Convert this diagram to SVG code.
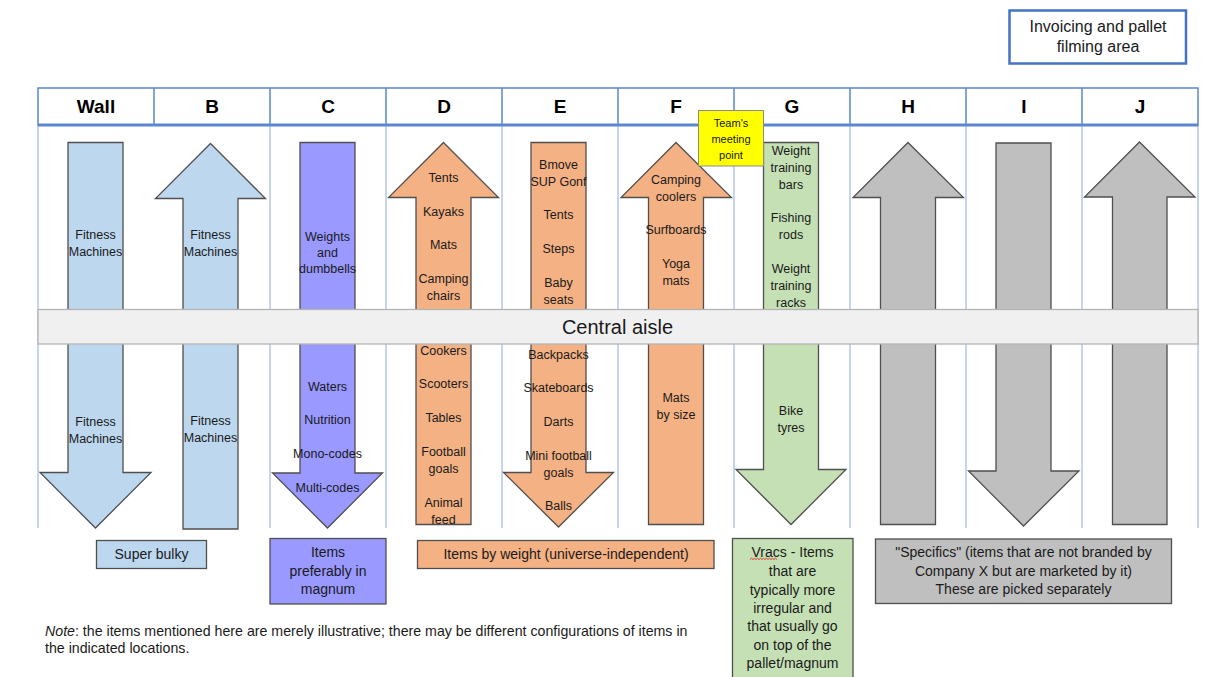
<svg xmlns="http://www.w3.org/2000/svg" width="1209" height="677" viewBox="0 0 1209 677">
  <style>
    text { font-family: "Liberation Sans", Arial, sans-serif; fill: #1a1a1a; }
    .hdr { font-size: 19px; font-weight: bold; text-anchor: middle; fill: #000; }
    .lbl { font-size: 12.5px; text-anchor: middle; }
    .leg { font-size: 14px; text-anchor: middle; }
    .hline { stroke: #5B86D0; stroke-width: 1.5; fill: none; }
    .gline { stroke: #8FAADC; stroke-width: 1; fill: none; }
    .arrow { stroke: #4F4F4F; stroke-width: 1.3; stroke-linejoin: miter; }
    .blue { fill: #BDD7EE; }
    .violet { fill: #9999FF; }
    .orange { fill: #F4B183; }
    .green { fill: #C5E0B4; }
    .grey { fill: #BFBFBF; }
    .box { stroke: #4F4F4F; stroke-width: 1.3; }
  </style>

  <!-- invoicing area -->
  <g id="invoicing">
    <rect x="1009.5" y="10.5" width="176.5" height="53" fill="#fff" stroke="#4472C4" stroke-width="2.5"/>
    <text x="1098" y="32" font-size="16" text-anchor="middle">Invoicing and pallet</text>
    <text x="1098" y="52" font-size="16" text-anchor="middle">filming area</text>
  </g>

  <!-- column grid below header -->
  <g id="grid">
    <path class="gline" d="M38 125V528 M270 125V528 M386 125V528 M502 125V528 M618 125V528 M734 125V528 M850 125V528 M966 125V528 M1082 125V528 M1198 125V528"/>
  </g>

  <!-- header row -->
  <g id="header">
    <rect x="38" y="88" width="1160" height="37" fill="#fff" class="hline"/>
    <path class="hline" d="M154 88V125 M270 88V125 M386 88V125 M502 88V125 M618 88V125 M734 88V125 M850 88V125 M966 88V125 M1082 88V125"/>
    <path d="M38 125H1198" stroke="#5B86D0" stroke-width="2.8"/>
    <text class="hdr" x="96" y="113">Wall</text>
    <text class="hdr" x="212" y="113">B</text>
    <text class="hdr" x="328" y="113">C</text>
    <text class="hdr" x="444" y="113">D</text>
    <text class="hdr" x="560" y="113">E</text>
    <text class="hdr" x="676" y="113">F</text>
    <text class="hdr" x="792" y="113">G</text>
    <text class="hdr" x="908" y="113">H</text>
    <text class="hdr" x="1024" y="113">I</text>
    <text class="hdr" x="1140" y="113">J</text>
  </g>

  <!-- aisle arrows -->
  <g id="arrow-wall">
    <path class="arrow blue" d="M68 142.5H123V472.5H151L95.5 528L40 472.5H68Z"/>
    <text class="lbl"><tspan x="95.5" y="238.5">Fitness</tspan><tspan x="95.5" y="255.5">Machines</tspan></text>
    <text class="lbl"><tspan x="95.5" y="425.5">Fitness</tspan><tspan x="95.5" y="442.5">Machines</tspan></text>
  </g>
  <g id="arrow-b">
    <path class="arrow blue" d="M210.5 143.5L265.5 198.5H238V529H183V198.5H155.5Z"/>
    <text class="lbl"><tspan x="210.5" y="238.5">Fitness</tspan><tspan x="210.5" y="255.5">Machines</tspan></text>
    <text class="lbl"><tspan x="210.5" y="424.5">Fitness</tspan><tspan x="210.5" y="441.5">Machines</tspan></text>
  </g>
  <g id="arrow-c">
    <path class="arrow violet" d="M300 142.5H355V473H382.5L327.5 528L272.5 473H300Z"/>
    <text class="lbl"><tspan x="327.5" y="240.5">Weights</tspan><tspan x="327.5" y="256.5">and</tspan><tspan x="327.5" y="272.5">dumbbells</tspan></text>
    <text class="lbl" x="327.5" y="390.5">Waters</text>
    <text class="lbl" x="327.5" y="423.5">Nutrition</text>
    <text class="lbl" x="327.5" y="457.5">Mono-codes</text>
    <text class="lbl" x="327.5" y="491.5">Multi-codes</text>
  </g>
  <g id="arrow-d">
    <path class="arrow orange" d="M443.5 142.5L498.5 197.5H471V524.5H416V197.5H388.5Z"/>
    <text class="lbl" x="443.5" y="181.5">Tents</text>
    <text class="lbl" x="443.5" y="215.5">Kayaks</text>
    <text class="lbl" x="443.5" y="248.5">Mats</text>
    <text class="lbl"><tspan x="443.5" y="282.5">Camping</tspan><tspan x="443.5" y="299.5">chairs</tspan></text>
    <text class="lbl" x="443.5" y="354.5">Cookers</text>
    <text class="lbl" x="443.5" y="387.5">Scooters</text>
    <text class="lbl" x="443.5" y="421.5">Tables</text>
    <text class="lbl"><tspan x="443.5" y="455.5">Football</tspan><tspan x="443.5" y="472.5">goals</tspan></text>
    <text class="lbl"><tspan x="443.5" y="506.5">Animal</tspan><tspan x="443.5" y="523.5">feed</tspan></text>
  </g>
  <g id="arrow-e">
    <path class="arrow orange" d="M531 142.5H586V472.5H613.5L558.5 527L503.5 472.5H531Z"/>
    <text class="lbl"><tspan x="558.5" y="168.5">Bmove</tspan><tspan x="558.5" y="185.5">SUP Gonf</tspan></text>
    <text class="lbl" x="558.5" y="218.5">Tents</text>
    <text class="lbl" x="558.5" y="252.5">Steps</text>
    <text class="lbl"><tspan x="558.5" y="286.5">Baby</tspan><tspan x="558.5" y="303.5">seats</tspan></text>
    <text class="lbl" x="558.5" y="358.5">Backpacks</text>
    <text class="lbl" x="558.5" y="391.5">Skateboards</text>
    <text class="lbl" x="558.5" y="425.5">Darts</text>
    <text class="lbl"><tspan x="558.5" y="459.5">Mini football</tspan><tspan x="558.5" y="476.5">goals</tspan></text>
    <text class="lbl" x="558.5" y="509.5">Balls</text>
  </g>
  <g id="arrow-f">
    <path class="arrow orange" d="M676 142.5L731.5 197.5H703.5V524.5H648.5V197.5H621Z"/>
    <text class="lbl"><tspan x="676" y="183.5">Camping</tspan><tspan x="676" y="200.5">coolers</tspan></text>
    <text class="lbl" x="676" y="233.5">Surfboards</text>
    <text class="lbl"><tspan x="676" y="267.5">Yoga</tspan><tspan x="676" y="284.5">mats</tspan></text>
    <text class="lbl"><tspan x="676" y="401.5">Mats</tspan><tspan x="676" y="418.5">by size</tspan></text>
  </g>
  <g id="arrow-g">
    <path class="arrow green" d="M763.5 142.5H818.5V469.5H846L791 524.5L736 469.5H763.5Z"/>
    <text class="lbl"><tspan x="791" y="154.5">Weight</tspan><tspan x="791" y="171.5">training</tspan><tspan x="791" y="188.5">bars</tspan></text>
    <text class="lbl"><tspan x="791" y="221.5">Fishing</tspan><tspan x="791" y="238.5">rods</tspan></text>
    <text class="lbl"><tspan x="791" y="272.5">Weight</tspan><tspan x="791" y="289.5">training</tspan><tspan x="791" y="306.5">racks</tspan></text>
    <text class="lbl"><tspan x="791" y="414.5">Bike</tspan><tspan x="791" y="431.5">tyres</tspan></text>
  </g>
  <g id="arrow-h">
    <path class="arrow grey" d="M908 142.5L963.5 197.5H935.5V524.5H880.5V197.5H853Z"/>
  </g>
  <g id="arrow-i">
    <path class="arrow grey" d="M996 143H1051V471H1079L1023.5 526L968.5 471H996Z"/>
  </g>
  <g id="arrow-j">
    <path class="arrow grey" d="M1139.5 142L1195 197H1167V524.5H1112.5V197H1084.5Z"/>
  </g>

  <!-- central aisle -->
  <g id="central-aisle">
    <rect x="38" y="309.5" width="1160" height="34.5" fill="#F0F0F0" stroke="#B4B4B4" stroke-width="1.3"/>
    <text x="617.5" y="334" font-size="20" text-anchor="middle">Central aisle</text>
  </g>

  <!-- meeting point -->
  <g id="meeting-point">
    <rect x="698.5" y="110.5" width="65" height="55.5" fill="#FFFF00" stroke="#8C8C8C" stroke-width="1"/>
    <text font-size="11" text-anchor="middle"><tspan x="731" y="127">Team's</tspan><tspan x="731" y="143">meeting</tspan><tspan x="731" y="159">point</tspan></text>
  </g>

  <!-- legend -->
  <g id="legend-bulky">
    <rect class="box blue" x="96.5" y="540.5" width="110" height="28"/>
    <text class="leg" x="151.5" y="559">Super bulky</text>
  </g>
  <g id="legend-magnum">
    <rect class="box violet" x="270" y="538.5" width="116" height="65.5"/>
    <text class="leg"><tspan x="328" y="557">Items</tspan><tspan x="328" y="575.5">preferably in</tspan><tspan x="328" y="594">magnum</tspan></text>
  </g>
  <g id="legend-weight">
    <rect class="box orange" x="417.5" y="540.5" width="296.5" height="28"/>
    <text class="leg" x="566" y="558.5">Items by weight (universe-independent)</text>
  </g>
  <g id="legend-vracs">
    <rect class="box green" x="732.5" y="538.5" width="120.5" height="142"/>
    <text class="leg"><tspan x="792.5" y="557">Vracs - Items</tspan><tspan x="792.5" y="576">that are</tspan><tspan x="792.5" y="594.5">typically more</tspan><tspan x="792.5" y="612.5">irregular and</tspan><tspan x="792.5" y="630.5">that usually go</tspan><tspan x="792.5" y="649.5">on top of the</tspan><tspan x="792.5" y="667.5">pallet/magnum</tspan></text>
    <path d="M750 559.5l1.5 -1.2l1.5 1.2l1.5 -1.2l1.5 1.2l1.5 -1.2l1.5 1.2l1.5 -1.2l1.5 1.2l1.5 -1.2l1.5 1.2l1.5 -1.2l1.5 1.2l1.5 -1.2l1.5 1.2l1.5 -1.2l1.5 1.2l1.5 -1.2l1.5 1.2" fill="none" stroke="#E02020" stroke-width="0.9"/>
  </g>
  <g id="legend-specifics">
    <rect class="box grey" x="875.5" y="539" width="296" height="64.5"/>
    <text class="leg"><tspan x="1023.5" y="557">"Specifics" (items that are not branded by</tspan><tspan x="1023.5" y="576">Company X but are marketed by it)</tspan><tspan x="1023.5" y="594">These are picked separately</tspan></text>
  </g>

  <!-- footnote -->
  <g id="note">
    <text font-size="14.2" x="45" y="636"><tspan font-style="italic">Note</tspan>: the items mentioned here are merely illustrative; there may be different configurations of items in</text>
    <text font-size="14.2" x="45" y="653">the indicated locations.</text>
  </g>
</svg>
